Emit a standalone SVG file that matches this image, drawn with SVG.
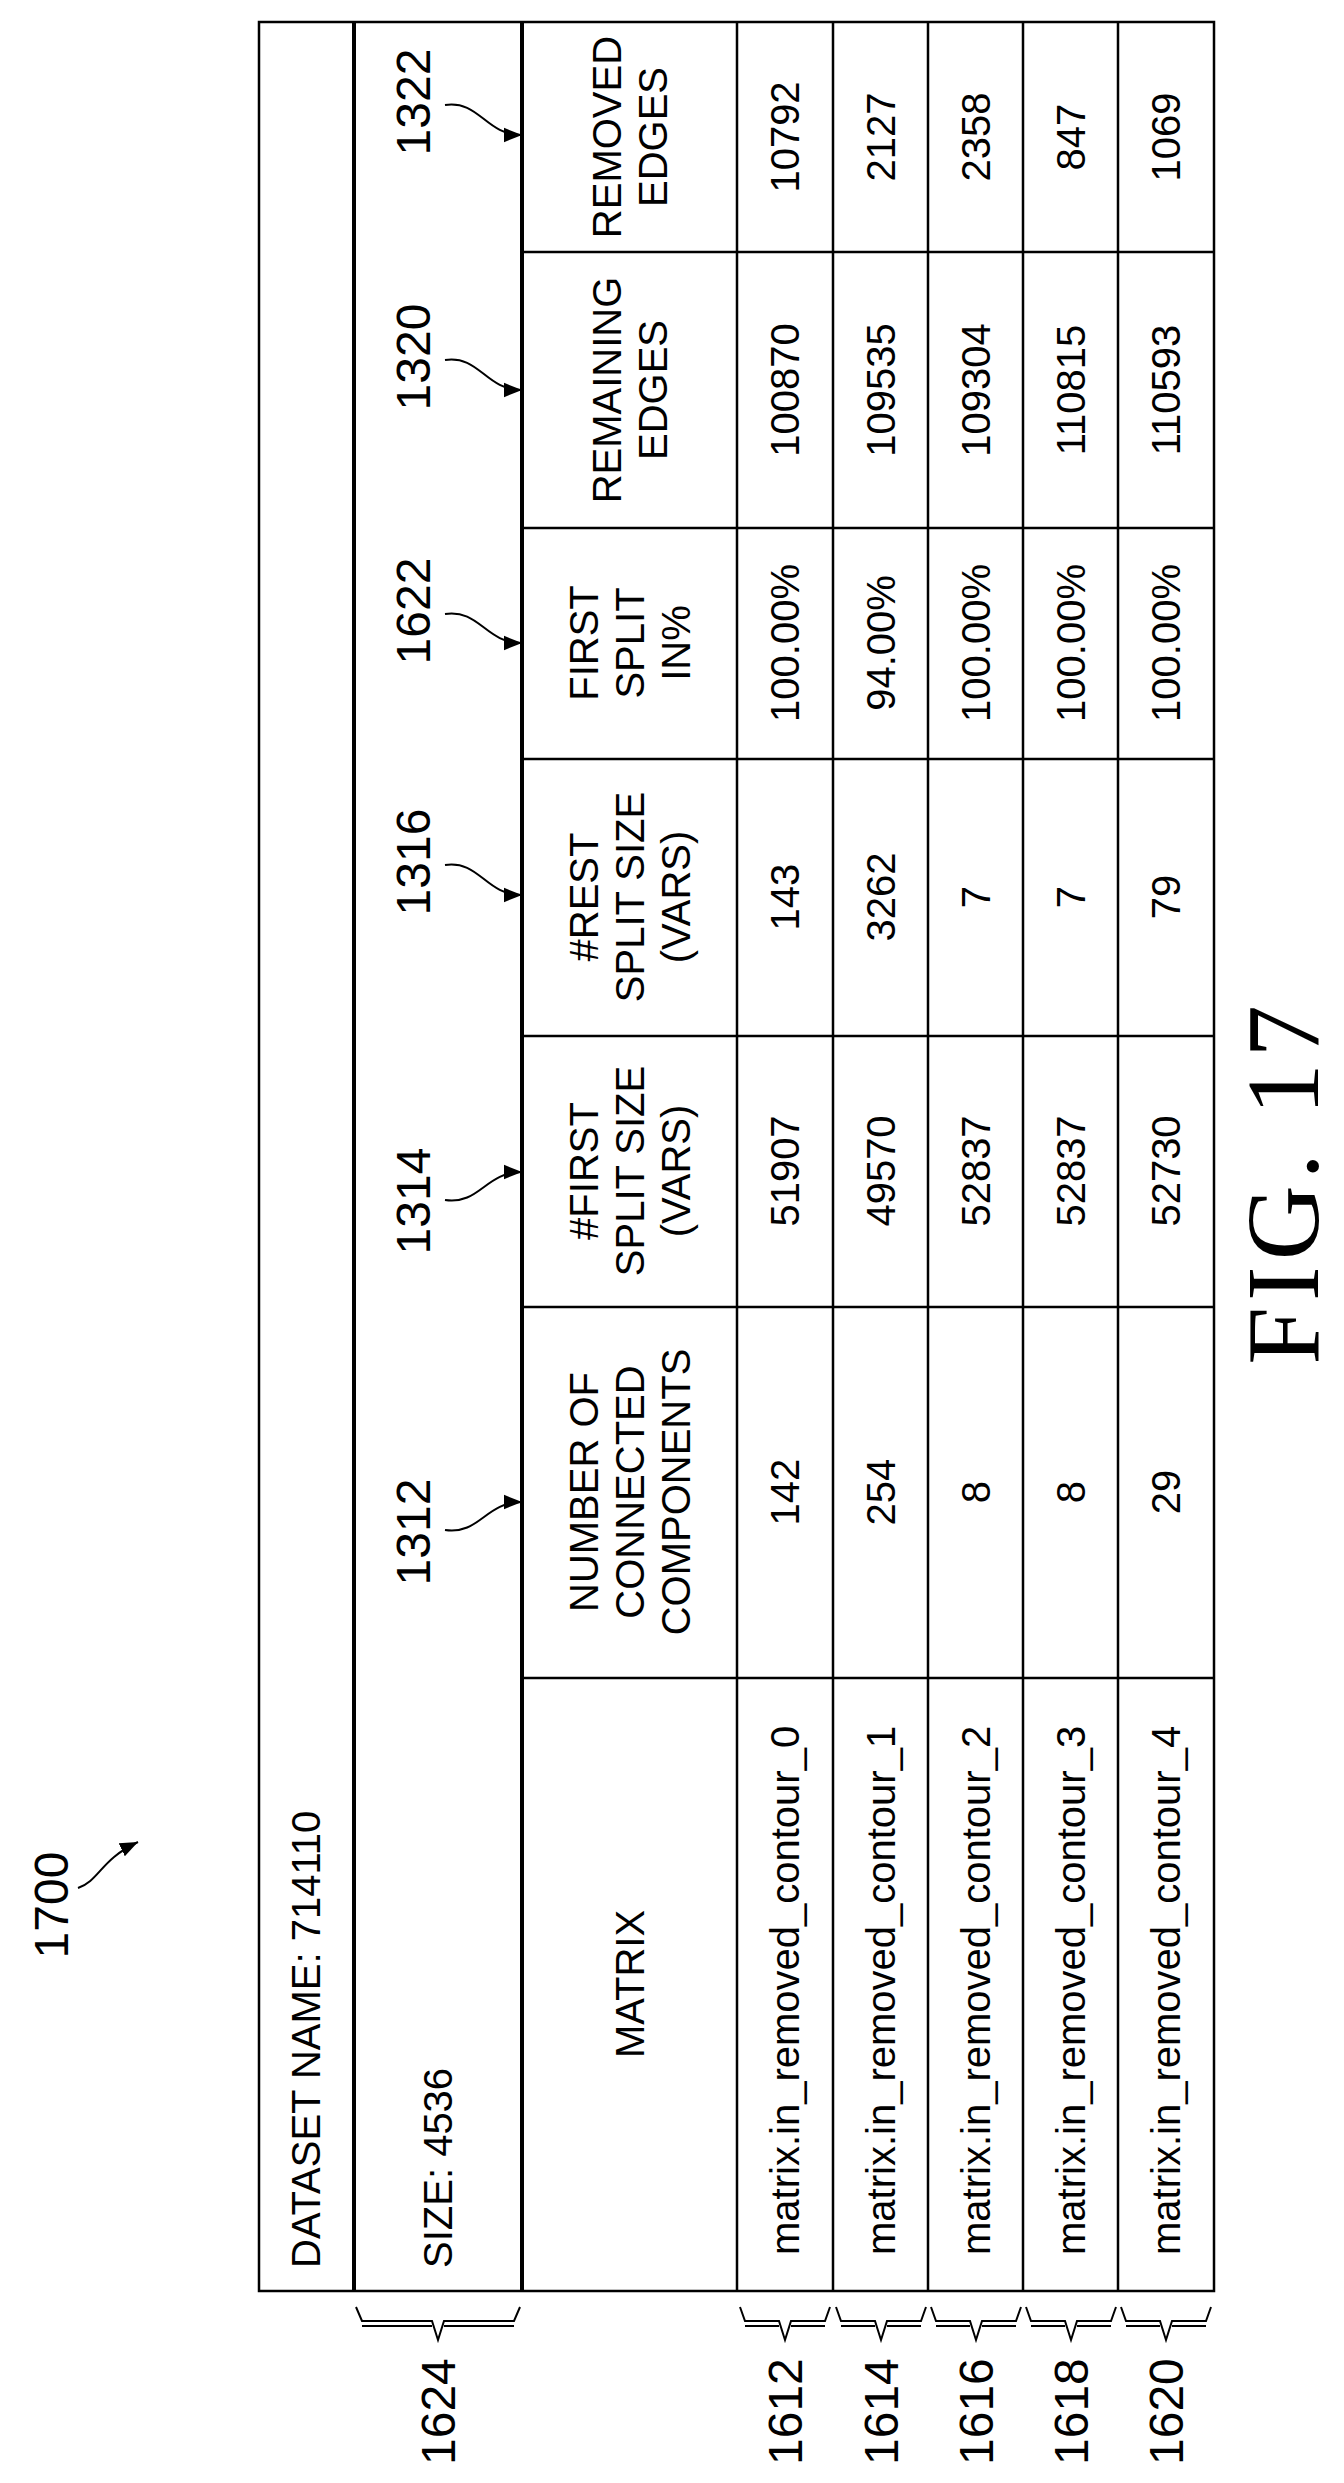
<svg xmlns="http://www.w3.org/2000/svg" width="1344" height="2483" viewBox="0 0 1344 2483">
<style>
text{font-family:"Liberation Sans",Arial,sans-serif;font-size:40px;fill:#000}
.m{text-anchor:middle}
.s{text-anchor:start}
.e{text-anchor:end}
.lbl{font-size:48px}
.fig{font-family:"Liberation Serif","Times New Roman",serif;font-size:104px;font-weight:normal;letter-spacing:6px}
.ln{stroke:#000;stroke-width:2.5;fill:none}
.thk{stroke:#000;stroke-width:4;fill:none}
.arr{stroke:#000;stroke-width:2;fill:none}
.br{stroke:#000;stroke-width:2;fill:none}
</style>
<defs>
<marker id="ah2" viewBox="0 0 10 10" refX="10" refY="5" markerWidth="18" markerHeight="18" markerUnits="userSpaceOnUse" orient="auto">
<path d="M0,1 L10,5 L0,9 Z" fill="#000"/>
</marker>
</defs>

<g id="table">
<rect x="259" y="22" width="955" height="2269" class="ln"/>
<line x1="354" y1="22" x2="354" y2="2291" class="thk"/>
<line x1="522" y1="22" x2="522" y2="2291" class="thk"/>
<line x1="737" y1="22" x2="737" y2="2291" class="ln"/>
<line x1="833" y1="22" x2="833" y2="2291" class="ln"/>
<line x1="928" y1="22" x2="928" y2="2291" class="ln"/>
<line x1="1023" y1="22" x2="1023" y2="2291" class="ln"/>
<line x1="1118" y1="22" x2="1118" y2="2291" class="ln"/>
<line x1="522" y1="252" x2="1214" y2="252" class="ln"/>
<line x1="522" y1="528" x2="1214" y2="528" class="ln"/>
<line x1="522" y1="759" x2="1214" y2="759" class="ln"/>
<line x1="522" y1="1036" x2="1214" y2="1036" class="ln"/>
<line x1="522" y1="1307" x2="1214" y2="1307" class="ln"/>
<line x1="522" y1="1678" x2="1214" y2="1678" class="ln"/>
</g>

<g id="titles">
<text class="s" transform="translate(320,2268) rotate(-90)">DATASET NAME: 714110</text>
<text class="s" transform="translate(452,2268) rotate(-90)">SIZE: 4536</text>
</g>

<g id="headers">
<text class="m" transform="translate(621,137) rotate(-90)">REMOVED</text>
<text class="m" transform="translate(667,137) rotate(-90)">EDGES</text>
<text class="m" transform="translate(621,390) rotate(-90)">REMAINING</text>
<text class="m" transform="translate(667,390) rotate(-90)">EDGES</text>
<text class="m" transform="translate(598,643) rotate(-90)">FIRST</text>
<text class="m" transform="translate(644,643) rotate(-90)">SPLIT</text>
<text class="m" transform="translate(690,643) rotate(-90)">IN%</text>
<text class="m" transform="translate(598,897) rotate(-90)">#REST</text>
<text class="m" transform="translate(644,897) rotate(-90)">SPLIT SIZE</text>
<text class="m" transform="translate(690,897) rotate(-90)">(VARS)</text>
<text class="m" transform="translate(598,1171) rotate(-90)">#FIRST</text>
<text class="m" transform="translate(644,1171) rotate(-90)">SPLIT SIZE</text>
<text class="m" transform="translate(690,1171) rotate(-90)">(VARS)</text>
<text class="m" transform="translate(598,1492) rotate(-90)">NUMBER OF</text>
<text class="m" transform="translate(644,1492) rotate(-90)">CONNECTED</text>
<text class="m" transform="translate(690,1492) rotate(-90)">COMPONENTS</text>
<text class="m" transform="translate(644,1984) rotate(-90)">MATRIX</text>
</g>

<g id="row1612">
<text class="s" transform="translate(799,2255) rotate(-90)">matrix.in_removed_contour_0</text>
<text class="m" transform="translate(799,1492) rotate(-90)">142</text>
<text class="m" transform="translate(799,1171) rotate(-90)">51907</text>
<text class="m" transform="translate(799,897) rotate(-90)">143</text>
<text class="m" transform="translate(799,643) rotate(-90)">100.00%</text>
<text class="m" transform="translate(799,390) rotate(-90)">100870</text>
<text class="m" transform="translate(799,137) rotate(-90)">10792</text>
</g>
<g id="row1614">
<text class="s" transform="translate(895,2255) rotate(-90)">matrix.in_removed_contour_1</text>
<text class="m" transform="translate(895,1492) rotate(-90)">254</text>
<text class="m" transform="translate(895,1171) rotate(-90)">49570</text>
<text class="m" transform="translate(895,897) rotate(-90)">3262</text>
<text class="m" transform="translate(895,643) rotate(-90)">94.00%</text>
<text class="m" transform="translate(895,390) rotate(-90)">109535</text>
<text class="m" transform="translate(895,137) rotate(-90)">2127</text>
</g>
<g id="row1616">
<text class="s" transform="translate(990,2255) rotate(-90)">matrix.in_removed_contour_2</text>
<text class="m" transform="translate(990,1492) rotate(-90)">8</text>
<text class="m" transform="translate(990,1171) rotate(-90)">52837</text>
<text class="m" transform="translate(990,897) rotate(-90)">7</text>
<text class="m" transform="translate(990,643) rotate(-90)">100.00%</text>
<text class="m" transform="translate(990,390) rotate(-90)">109304</text>
<text class="m" transform="translate(990,137) rotate(-90)">2358</text>
</g>
<g id="row1618">
<text class="s" transform="translate(1085,2255) rotate(-90)">matrix.in_removed_contour_3</text>
<text class="m" transform="translate(1085,1492) rotate(-90)">8</text>
<text class="m" transform="translate(1085,1171) rotate(-90)">52837</text>
<text class="m" transform="translate(1085,897) rotate(-90)">7</text>
<text class="m" transform="translate(1085,643) rotate(-90)">100.00%</text>
<text class="m" transform="translate(1085,390) rotate(-90)">110815</text>
<text class="m" transform="translate(1085,137) rotate(-90)">847</text>
</g>
<g id="row1620">
<text class="s" transform="translate(1180,2255) rotate(-90)">matrix.in_removed_contour_4</text>
<text class="m" transform="translate(1180,1492) rotate(-90)">29</text>
<text class="m" transform="translate(1180,1171) rotate(-90)">52730</text>
<text class="m" transform="translate(1180,897) rotate(-90)">79</text>
<text class="m" transform="translate(1180,643) rotate(-90)">100.00%</text>
<text class="m" transform="translate(1180,390) rotate(-90)">110593</text>
<text class="m" transform="translate(1180,137) rotate(-90)">1069</text>
</g>

<g id="labels">
<text class="m lbl" transform="translate(430,102) rotate(-90)">1322</text>
<text class="m lbl" transform="translate(430,357) rotate(-90)">1320</text>
<text class="m lbl" transform="translate(430,611) rotate(-90)">1622</text>
<text class="m lbl" transform="translate(430,862) rotate(-90)">1316</text>
<text class="m lbl" transform="translate(430,1201) rotate(-90)">1314</text>
<text class="m lbl" transform="translate(430,1532) rotate(-90)">1312</text>
<text class="m lbl" transform="translate(68,1905) rotate(-90)">1700</text>
<text class="s lbl" transform="translate(455,2465) rotate(-90)">1624</text>
<text class="s lbl" transform="translate(802,2465) rotate(-90)">1612</text>
<text class="s lbl" transform="translate(898,2465) rotate(-90)">1614</text>
<text class="s lbl" transform="translate(993,2465) rotate(-90)">1616</text>
<text class="s lbl" transform="translate(1088,2465) rotate(-90)">1618</text>
<text class="s lbl" transform="translate(1183,2465) rotate(-90)">1620</text>
<text class="m fig" transform="translate(1318,1182) rotate(-90)">FIG. 17</text>
</g>

<g id="connectors">
<path class="arr" d="M445,105 C480,100 485,135 522,135" marker-end="url(#ah2)"/>
<path class="arr" d="M445,360 C480,355 485,390 522,390" marker-end="url(#ah2)"/>
<path class="arr" d="M445,614 C480,609 485,643 522,643" marker-end="url(#ah2)"/>
<path class="arr" d="M445,865 C480,860 485,895 522,895" marker-end="url(#ah2)"/>
<path class="arr" d="M445,1200 C480,1205 485,1172 522,1172" marker-end="url(#ah2)"/>
<path class="arr" d="M445,1530 C480,1535 485,1502 522,1502" marker-end="url(#ah2)"/>
<path class="arr" d="M78,1888 C100,1880 100,1860 138,1842" marker-end="url(#ah2)"/>
<path class="br" d="M356,2307 L362,2321 L432,2321 L438,2340 L444,2321 L514,2321 L520,2307 M362,2326 L432,2326 M444,2326 L514,2326"/>
<path class="br" d="M740,2307 L745,2321 L779,2321 L785,2340 L791,2321 L825,2321 L830,2307 M745,2326 L779,2326 M791,2326 L825,2326"/>
<path class="br" d="M836,2307 L841,2321 L875,2321 L881,2340 L887,2321 L921,2321 L926,2307 M841,2326 L875,2326 M887,2326 L921,2326"/>
<path class="br" d="M931,2307 L936,2321 L970,2321 L976,2340 L982,2321 L1016,2321 L1021,2307 M936,2326 L970,2326 M982,2326 L1016,2326"/>
<path class="br" d="M1026,2307 L1031,2321 L1065,2321 L1071,2340 L1077,2321 L1111,2321 L1116,2307 M1031,2326 L1065,2326 M1077,2326 L1111,2326"/>
<path class="br" d="M1121,2307 L1126,2321 L1160,2321 L1166,2340 L1172,2321 L1206,2321 L1211,2307 M1126,2326 L1160,2326 M1172,2326 L1206,2326"/>
</g>
</svg>
